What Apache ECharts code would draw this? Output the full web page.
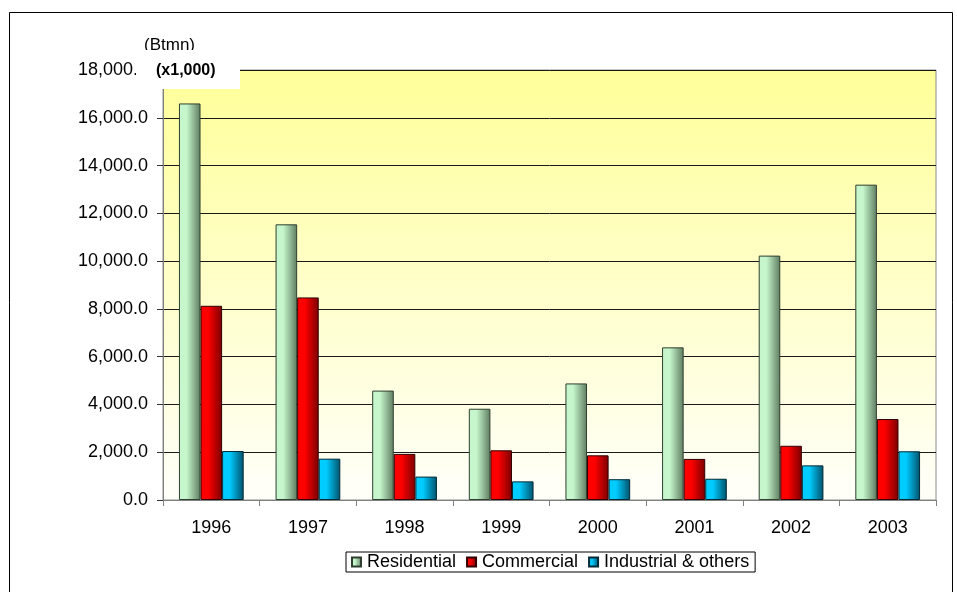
<!DOCTYPE html>
<html>
<head>
<meta charset="utf-8">
<script src="https://cdn.jsdelivr.net/npm/echarts@6/dist/echarts.min.js"></script>
<style>html,body{margin:0;padding:0;background:#fff;}#c{width:957px;height:592px;}</style>
</head>
<body>
<div id="c"></div>
<script>
var categories = ['1996','1997','1998','1999','2000','2001','2002','2003'];
var residential = [16600, 11540, 4580, 3820, 4880, 6390, 10230, 13200];
var commercial  = [8130, 8480, 1930, 2080, 1870, 1720, 2270, 3390];
var industrial  = [2050, 1730, 980, 780, 870, 890, 1450, 2040];
var seriesNames = ['Residential', 'Commercial', 'Industrial & others'];
var yTicks = [0, 2000, 4000, 6000, 8000, 10000, 12000, 14000, 16000, 18000];

var FONT = '"Liberation Sans", Arial, sans-serif';
function hgrad(a, b) {
  return new echarts.graphic.LinearGradient(0, 0, 1, 0, [
    {offset: 0, color: a}, {offset: 0.35, color: a}, {offset: 1, color: b}
  ]);
}
var chart = echarts.init(document.getElementById('c'));
function mk(name, data, c1, c2, bc) {
  return {
    name: name, type: 'bar', data: data,
    barGap: '0%', barCategoryGap: '33%',
    itemStyle: {color: hgrad(c1, c2), borderColor: bc, borderWidth: 1}
  };
}
chart.setOption({
  animation: false,
  backgroundColor: '#fff',
  textStyle: {fontFamily: FONT},
  grid: {left: 163, top: 70, right: 21, bottom: 92,
    show: true, borderColor: '#8c8c8c', borderWidth: 1,
    backgroundColor: new echarts.graphic.LinearGradient(0, 0, 0, 1, [
      {offset: 0, color: '#ffff99'}, {offset: 1, color: '#fffffa'}
    ])},
  legend: {
    data: seriesNames, left: 346, top: 552,
    itemWidth: 9, itemHeight: 9, itemGap: 10,
    borderColor: '#000', borderWidth: 1, padding: [1, 6, 1, 5],
    backgroundColor: '#fff',
    textStyle: {fontSize: 18, fontFamily: FONT, color: '#000', padding: [0, 0, 0, 1]},
    icon: 'rect'
  },
  xAxis: {
    type: 'category', data: categories,
    axisLine: {lineStyle: {color: '#808080', width: 1}},
    axisTick: {show: true, length: 6, lineStyle: {color: '#808080'}},
    axisLabel: {fontSize: 18, color: '#000', margin: 19, fontFamily: FONT},
    splitLine: {show: false}
  },
  yAxis: {
    type: 'value', min: yTicks[0], max: yTicks[yTicks.length - 1], interval: 2000,
    axisLine: {show: true, lineStyle: {color: '#808080'}},
    axisTick: {show: true, length: 6, inside: false, lineStyle: {color: '#333'}},
    axisLabel: {fontSize: 18, color: '#000', margin: 15, fontFamily: FONT,
      formatter: function (v) { return v.toLocaleString('en-US', {minimumFractionDigits: 1, maximumFractionDigits: 1}); }},
    splitLine: {show: true, lineStyle: {color: '#1a1a1a', width: 1}}
  },
  series: [
    mk(seriesNames[0], residential, '#c6f7cc', '#5e7c60', '#2f3f2f'),
    mk(seriesNames[1], commercial, '#ff0000', '#7a0000', '#300000'),
    mk(seriesNames[2], industrial, '#00ccff', '#00506a', '#002a38')
  ],
  graphic: [
    {type: 'rect', z: 1, silent: true, shape: {x: 9.5, y: 12.5, width: 943, height: 600},
      style: {fill: 'none', stroke: '#000', lineWidth: 1}},
    {type: 'text', z: 90, left: 144, top: 37,
      style: {text: '(Btmn)', font: '17px ' + FONT, fill: '#000'}},
    {type: 'rect', z: 100, shape: {x: 136, y: 50, width: 104, height: 39},
      style: {fill: '#fff'}},
    {type: 'text', z: 110, left: 156, top: 63,
      style: {text: '(x1,000)', font: 'bold 16px ' + FONT, fill: '#000'}}
  ]
});
</script>
</body>
</html>
